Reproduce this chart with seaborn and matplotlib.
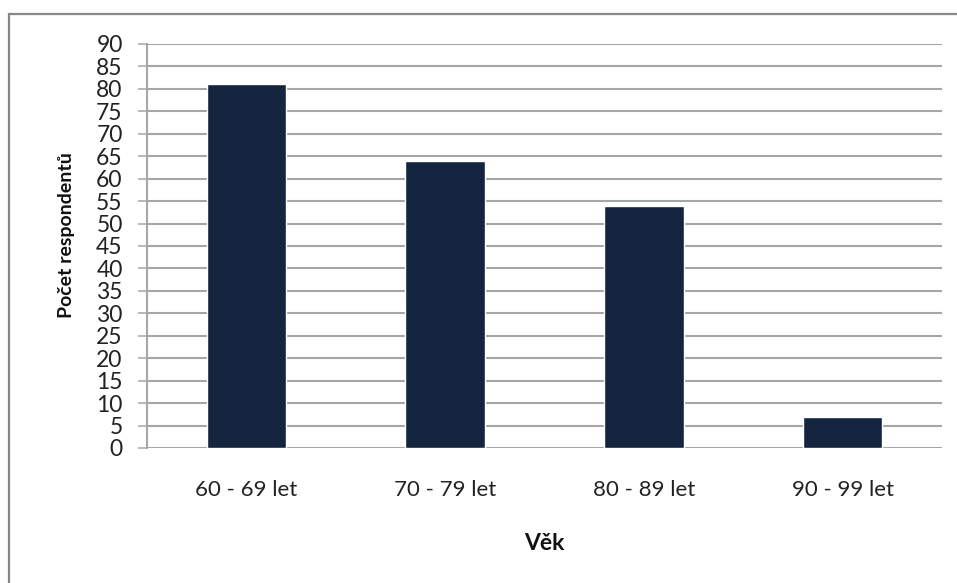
import matplotlib
matplotlib.use("Agg")
import matplotlib.pyplot as plt
import seaborn as sns
import pandas as pd
from matplotlib.patches import Rectangle

# Age groups of respondents and their counts
categories = ["60 - 69 let", "70 - 79 let", "80 - 89 let", "90 - 99 let"]
counts = [81, 64, 54, 7]
y_ticks = list(range(0, 95, 5))

df = pd.DataFrame({"Věk": categories, "Počet respondentů": counts})

sns.set_theme(style="white")
plt.rcParams["font.family"] = ["Lato", "DejaVu Sans"]

W, H = 957, 583
fig = plt.figure(figsize=(W / 100, H / 100), dpi=100)
ax = fig.add_axes([147 / W, 1 - 448 / H, (942 - 147) / W, (448 - 44) / H])

grid_col = "#a6a6a6"
ax.set_axisbelow(True)
for v in y_ticks:
    ax.axhline(v, color=grid_col, lw=1.5, zorder=0)

sns.barplot(data=df, x="Věk", y="Počet respondentů", color="#13253f",
            width=0.4, saturation=1, ax=ax, zorder=3)

ax.set_ylim(0, 90)
ax.set_xlim(-0.5, 3.5)
ax.set_yticks(y_ticks)
ax.set_yticklabels([str(v) for v in y_ticks], fontsize=16.5, color="#222222")
ax.tick_params(axis="y", length=6.5, width=1.1, color=grid_col, pad=11, left=True)
ax.tick_params(axis="x", length=0, pad=23, labelsize=16, labelcolor="#222222")

for s in ["top", "right", "bottom"]:
    ax.spines[s].set_visible(False)
ax.spines["left"].set_color(grid_col)
ax.spines["left"].set_linewidth(1.5)

ax.set_xlabel("Věk", fontsize=16.5, fontweight="bold", labelpad=24, color="#111111")
ax.set_ylabel("Počet respondentů", fontsize=14, fontweight="bold", labelpad=15,
              color="#111111", y=0.527)

# Outer chart frame
fig.patches.append(Rectangle((9 / W, -0.1), 1.2, 1 - 14 / H + 0.1,
                             transform=fig.transFigure, fill=False,
                             edgecolor="#878787", lw=1.6))

fig.savefig("out.png", dpi=100, facecolor="white")
